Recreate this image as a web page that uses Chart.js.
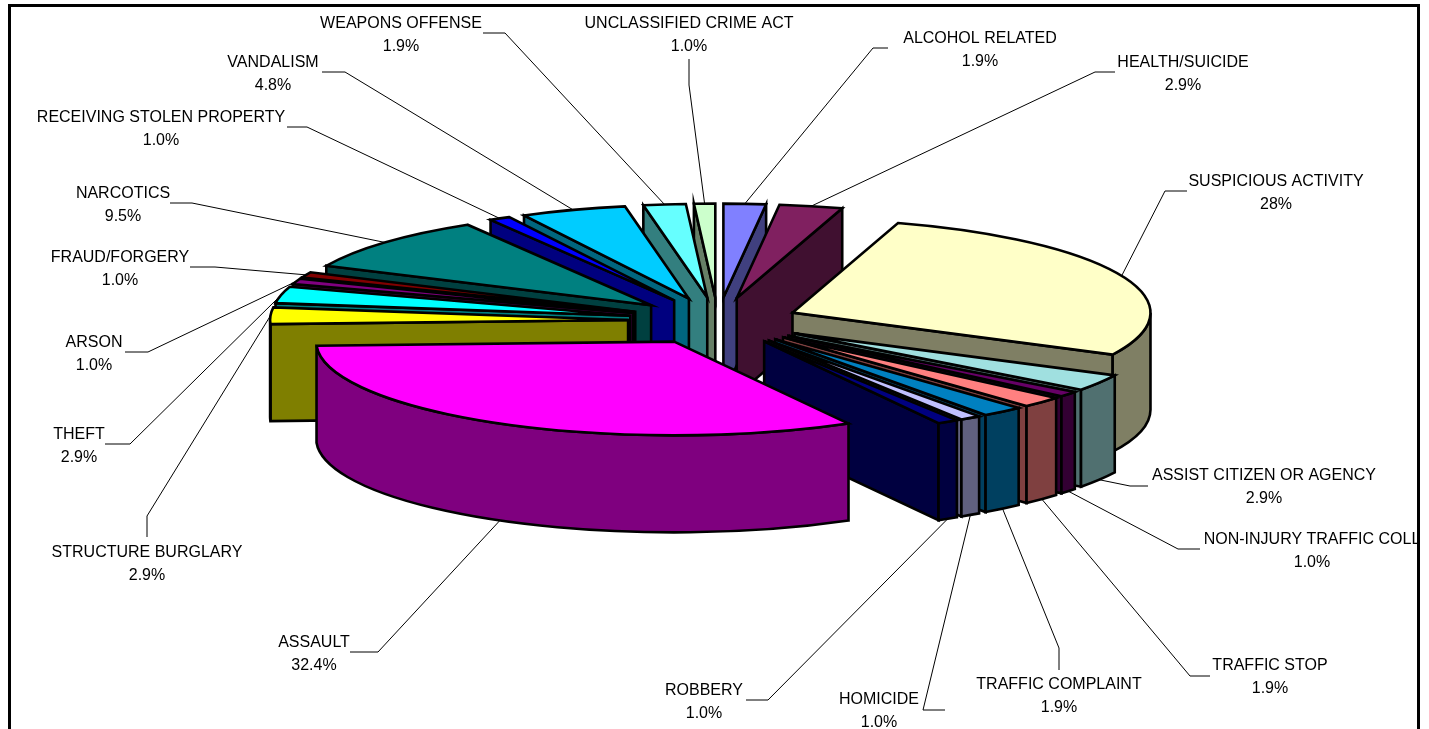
<!DOCTYPE html>
<html>
<head>
<meta charset="utf-8">
<title>Incidents by type</title>
<style>
  html, body { margin: 0; padding: 0; background: #fff; overflow: hidden; }
  canvas { display: block; }
</style>
<script src="https://cdn.jsdelivr.net/npm/chart.js@4"></script>
</head>
<body>
<canvas id="pieChart" width="1429" height="729"></canvas>
<script>
const categories = [
    'ALCOHOL RELATED', 'HEALTH/SUICIDE', 'SUSPICIOUS ACTIVITY', 'ASSIST CITIZEN OR AGENCY',
    'NON-INJURY TRAFFIC COLL', 'TRAFFIC STOP', 'TRAFFIC COMPLAINT', 'HOMICIDE', 'ROBBERY',
    'ASSAULT', 'STRUCTURE BURGLARY', 'THEFT', 'ARSON', 'FRAUD/FORGERY', 'NARCOTICS',
    'RECEIVING STOLEN PROPERTY', 'VANDALISM', 'WEAPONS OFFENSE', 'UNCLASSIFIED CRIME ACT'
];
// incident counts that give the printed shares (105 in all)
const incidents = [2, 3, 29, 3, 1, 2, 2, 1, 1, 34, 3, 3, 1, 1, 10, 1, 5, 2, 1];
const percentLabels = [
    '1.9%', '2.9%', '28%', '2.9%', '1.0%', '1.9%', '1.9%', '1.0%', '1.0%', '32.4%',
    '2.9%', '2.9%', '1.0%', '1.0%', '9.5%', '1.0%', '4.8%', '1.9%', '1.0%'
];
const sliceColors = [
    '#8080FF', '#802060', '#FFFFC8', '#A0E0E0', '#660066', '#FF8080', '#0080C0', '#C0C0FF', '#000080',
    '#FF00FF', '#FFFF00', '#00FFFF', '#800080', '#800000', '#008080', '#0000FF', '#00CCFF', '#66FFFF', '#CCFFCC'
];
// how far each slice is pulled out of the pie
const sliceOffsets = [90, 90, 81, 90, 90, 90, 90, 90, 90, 90, 90, 90, 90, 90, 90, 90, 90, 90, 90];

// where each label goes: text centre x, first line y, leader start x, y, elbow x, y
const labelLayout = [
    [980, 39, 888, 48, 873, 48],
    [1183, 63, 1115, 72, 1095, 72],
    [1276, 182, 1187, 191, 1165, 191],
    [1264, 476, 1148, 486, 1130, 486],
    [1312, 540, 1200, 549, 1178, 549],
    [1270, 666, 1210, 676, 1190, 676],
    [1059, 685, 1059, 670, 1059, 648],
    [879, 700, 945, 710, 923, 710],
    [704, 691, 746, 700, 768, 700],
    [314, 643, 350, 652, 378, 652],
    [147, 553, 147, 537, 147, 516],
    [79, 435, 105, 444, 130, 444],
    [94, 343, 125, 352, 148, 352],
    [120, 258, 190, 267, 215, 267],
    [123, 194, 170, 203, 192, 203],
    [161, 118, 287, 127, 307, 127],
    [273, 63, 322, 72, 345, 72],
    [401, 24, 483, 33, 505, 33],
    [689, 24, 689, 59, 689, 85]
];

const TILT = 0.262;
const DEPTH = 97;

function halfColor(hex) {
    const n = parseInt(hex.slice(1), 16);
    const r = (n >> 16) >> 1, g = ((n >> 8) & 255) >> 1, b = (n & 255) >> 1;
    return `rgb(${r},${g},${b})`;
}

function sliceGeometry(arc) {
    const { x, y, startAngle, endAngle, outerRadius } = arc;
    const mid = (startAngle + endAngle) / 2;
    const off = arc.options.offset;
    return {
        ax: x + Math.cos(mid) * off,
        ay: y + Math.sin(mid) * off * TILT,
        rx: outerRadius,
        ry: outerRadius * TILT,
        start: startAngle,
        end: endAngle,
        mid: mid
    };
}

function drawFace(ctx, fill, path) {
    ctx.beginPath();
    path();
    ctx.closePath();
    ctx.fillStyle = fill;
    ctx.fill();
    ctx.stroke();
}

function drawSlice(ctx, arc) {
    const g = sliceGeometry(arc);
    const top = arc.options.backgroundColor;
    const side = halfColor(top);
    const edge = a => [g.ax + g.rx * Math.cos(a), g.ay + g.ry * Math.sin(a)];
    const wall = a => {
        const p = edge(a);
        drawFace(ctx, side, () => {
            ctx.moveTo(g.ax, g.ay);
            ctx.lineTo(p[0], p[1]);
            ctx.lineTo(p[0], p[1] + DEPTH);
            ctx.lineTo(g.ax, g.ay + DEPTH);
        });
    };

    // the cut faces, only the ones turned to the viewer
    if (Math.cos(g.start) < 0) wall(g.start);
    if (Math.cos(g.end) > 0) wall(g.end);

    // rim, front half only
    const lo = Math.max(g.start, 0), hi = Math.min(g.end, Math.PI);
    if (hi > lo) {
        drawFace(ctx, side, () => {
            ctx.ellipse(g.ax, g.ay, g.rx, g.ry, 0, lo, hi);
            ctx.ellipse(g.ax, g.ay + DEPTH, g.rx, g.ry, 0, hi, lo, true);
        });
    }

    drawFace(ctx, top, () => {
        ctx.moveTo(g.ax, g.ay);
        ctx.ellipse(g.ax, g.ay, g.rx, g.ry, 0, g.start, g.end);
    });
}

const pie3d = {
    id: 'pie3d',
    beforeDatasetDraw(chart) {
        const ctx = chart.ctx;
        const arcs = chart.getDatasetMeta(0).data;

        ctx.save();
        ctx.strokeStyle = '#000';
        ctx.lineWidth = 2.6;
        ctx.lineJoin = 'miter';
        // back slices first so the front ones cover them
        const order = arcs.slice().sort((p, q) => {
            return Math.sin((q.startAngle + q.endAngle) / 2) > Math.sin((p.startAngle + p.endAngle) / 2) ? -1 : 1;
        });
        order.forEach(arc => drawSlice(ctx, arc));
        ctx.restore();

        return false;
    },
    afterDraw(chart) {
        const ctx = chart.ctx;
        const arcs = chart.getDatasetMeta(0).data;

        ctx.save();
        ctx.beginPath();
        ctx.rect(0, 0, 1418, 729);
        ctx.clip();

        ctx.strokeStyle = '#000';
        ctx.lineWidth = 1;
        ctx.fillStyle = '#000';
        ctx.font = '16px "Liberation Sans"';
        ctx.textAlign = 'center';
        ctx.textBaseline = 'middle';

        categories.forEach((name, i) => {
            const [tx, ty, sx, sy, ex, ey] = labelLayout[i];
            const g = sliceGeometry(arcs[i]);
            const front = Math.sin(g.mid) > 0;
            ctx.beginPath();
            ctx.moveTo(sx, sy);
            ctx.lineTo(ex, ey);
            ctx.lineTo(g.ax + g.rx * Math.cos(g.mid), g.ay + g.ry * Math.sin(g.mid) + (front ? DEPTH : 0));
            ctx.stroke();
            ctx.fillText(name, tx, ty);
            ctx.fillText(percentLabels[i], tx, ty + 22.5);
        });
        ctx.restore();

        // frame, the bottom edge falls outside the picture
        ctx.fillStyle = '#000';
        ctx.fillRect(8, 4, 1412, 3);
        ctx.fillRect(8, 4, 3, 725);
        ctx.fillRect(1417, 4, 3, 725);
    }
};

new Chart(document.getElementById('pieChart').getContext('2d'), {
    type: 'pie',
    data: {
        labels: categories,
        datasets: [{
            data: incidents,
            backgroundColor: sliceColors,
            offset: sliceOffsets
        }]
    },
    options: {
        responsive: false,
        animation: false,
        radius: 358,
        layout: { padding: { left: 7, right: 0, top: 0, bottom: 87 } },
        plugins: { legend: { display: false }, tooltip: { enabled: false } }
    },
    plugins: [pie3d]
});
</script>
</body>
</html>
